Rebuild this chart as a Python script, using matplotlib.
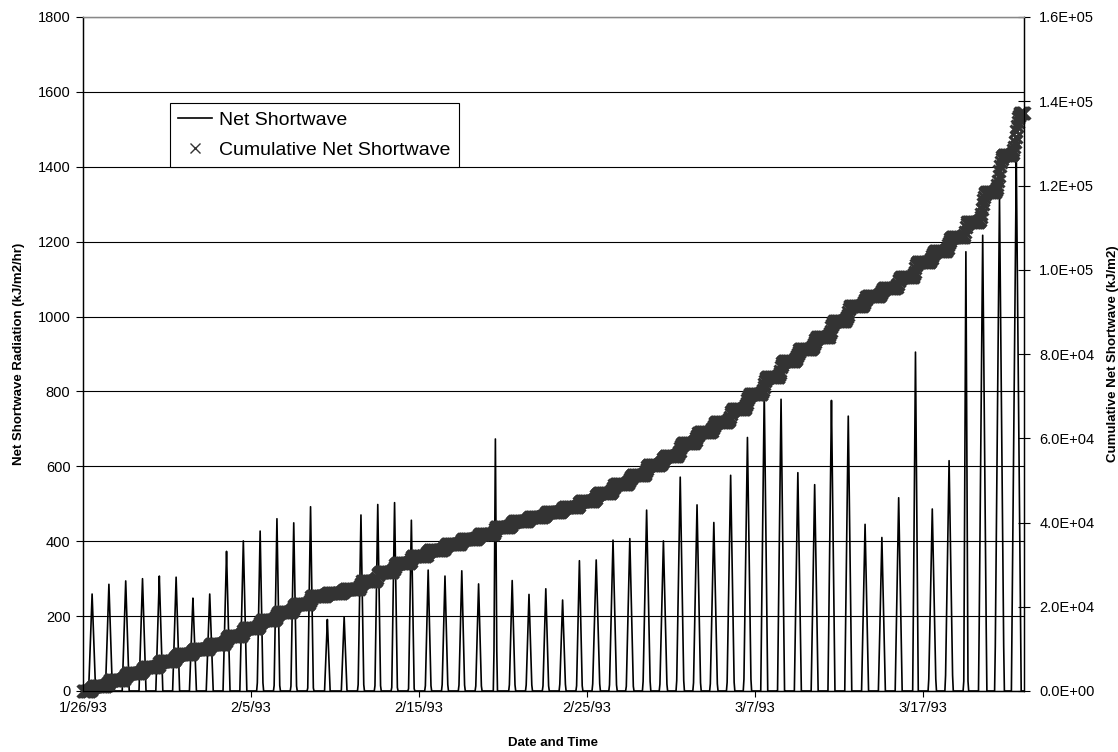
import numpy as np
import matplotlib
matplotlib.use("Agg")
import matplotlib.pyplot as plt
from matplotlib.lines import Line2D
from matplotlib.ticker import FuncFormatter

plt.rcParams["font.family"] = ["Liberation Sans", "DejaVu Sans"]

# Daily peak of hourly net shortwave (kJ/m2/hr), one value per day from 1/26/93
daily_peak = [259, 285, 294, 300, 307, 304, 248, 259, 373, 401,
              427, 460, 449, 492, 191, 198, 470, 498, 503, 456,
              323, 307, 321, 286, 673, 295, 258, 273, 243, 348,
              350, 403, 407, 483, 401, 571, 497, 450, 576, 677,
              800, 779, 583, 551, 776, 734, 445, 410, 516, 905,
              486, 615, 1173, 1217, 1319, 1420]

# Daily total net shortwave (kJ/m2), one value per day
daily_total = [1280, 1410, 1460, 1490, 1520, 1500, 1230, 1280, 1850, 1980,
               1800, 1900, 1850, 2000, 750, 800, 1950, 2050, 2050, 1850,
               1350, 1300, 1350, 1200, 1600, 1250, 1100, 1150, 1050, 1450,
               1850, 2100, 2100, 2550, 2100, 3000, 2600, 2350, 3000, 3550,
               4000, 3900, 2900, 2700, 3850, 3650, 2200, 2000, 2550, 3500,
               2600, 3300, 3600, 7100, 8700, 9900]

start_date = "1993-01-26"
solar_noon_hour = 13
date_ticks = ["1993-01-26", "1993-02-05", "1993-02-15", "1993-02-25", "1993-03-07", "1993-03-17"]
date_tick_labels = ["1/26/93", "2/5/93", "2/15/93", "2/25/93", "3/7/93", "3/17/93"]
left_ticks = [0, 200, 400, 600, 800, 1000, 1200, 1400, 1600, 1800]
right_ticks = [0, 20000, 40000, 60000, 80000, 100000, 120000, 140000, 160000]

# Hourly series: each day is a triangular pulse around solar noon whose area is the daily total
n_days = len(daily_peak)
start = np.datetime64(start_date + "T00:00")
hours = np.arange(n_days * 24 + 1)
times = start + hours.astype("timedelta64[h]")
hourly = np.zeros(len(hours))
for d, (peak, total) in enumerate(zip(daily_peak, daily_total)):
    half_width = total / peak
    offset = hours - (d * 24 + solar_noon_hour)
    hourly += peak * np.clip(1 - np.abs(offset) / half_width, 0, None)
cumulative = np.cumsum(hourly)

fig = plt.figure(figsize=(11.18, 7.52), dpi=100)
ax = fig.add_axes([83 / 1118, 1 - 691 / 752, (1024 - 83) / 1118, (691 - 17) / 752])
ax2 = ax.twinx()

ax.plot(times, hourly, color="black", lw=1.2, zorder=3)
ax2.plot(times, cumulative, ls="none", marker="x", ms=8, mew=2.2, color="#333333",
         clip_on=False)

ax.set_xlim(start, start + np.timedelta64(56, "D"))
ax.set_ylim(0, 1800)
ax2.set_ylim(0, 160000)

ax.set_yticks(left_ticks)
ax.set_yticklabels([str(v) for v in left_ticks])
ax2.set_yticks(right_ticks)
ax2.yaxis.set_major_formatter(FuncFormatter(lambda v, _: f"{v:.1E}"))
ax.set_xticks([np.datetime64(t + "T00:00") for t in date_ticks])
ax.set_xticklabels(date_tick_labels)

ax.grid(axis="y", color="black", lw=0.8)
ax.set_axisbelow(True)
for a in (ax, ax2):
    for s in a.spines.values():
        s.set_linewidth(0.9)
ax.spines["top"].set_color("#888888")
ax2.spines["top"].set_color("#888888")
ax.tick_params(axis="y", direction="out", length=5, width=0.8, labelsize=10.5, pad=4)
ax.tick_params(axis="x", direction="out", length=4, width=0.8, labelsize=10.5, pad=3)
ax2.tick_params(axis="y", direction="inout", length=8, width=0.8, labelsize=10.5, pad=7)

ax.set_ylabel("Net Shortwave Radiation (kJ/m2/hr)", fontsize=9.5, fontweight="bold", labelpad=9)
ax2.set_ylabel("Cumulative Net Shortwave (kJ/m2)", fontsize=9.5, fontweight="bold", labelpad=9)
ax.set_xlabel("Date and Time", fontsize=9.5, fontweight="bold", labelpad=16)

handles = [Line2D([], [], color="black", lw=1.2),
           Line2D([], [], ls="none", marker="x", ms=7, mew=1.0, color="#333333")]
leg = ax2.legend(handles, ["Net Shortwave", "Cumulative Net Shortwave"],
                 loc="upper left", bbox_to_anchor=((170 - 83) / 941, (691 - 103) / 674),
                 fontsize=14, frameon=True, fancybox=False, framealpha=1,
                 edgecolor="black", borderpad=0.42, handlelength=1.75, handletextpad=0.35,
                 labelspacing=0.64, borderaxespad=0)
leg.get_frame().set_linewidth(0.8)

fig.savefig("out.png", dpi=100)
